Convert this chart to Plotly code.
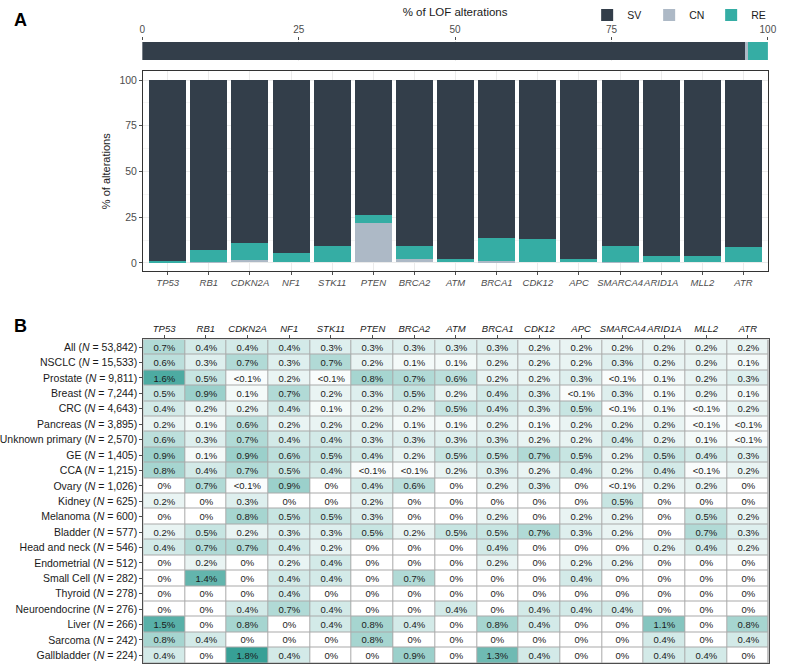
import plotly.graph_objects as go

# ---------------- data ----------------
genes = ["TP53", "RB1", "CDKN2A", "NF1", "STK11", "PTEN", "BRCA2", "ATM",
         "BRCA1", "CDK12", "APC", "SMARCA4", "ARID1A", "MLL2", "ATR"]

# Panel A top: overall share of LOF alterations
overall_types = ["SV", "CN", "RE"]
overall_pct = [96.45, 0.5, 3.05]

# Panel A bars: % of alterations per gene
cn_pct = [0, 0.3, 1.4, 0, 0, 21.7, 1.8, 0, 0.7, 0, 0, 0.2, 0, 0, 0]
re_pct = [0.9, 6.4, 9.4, 4.9, 9.2, 4.5, 7.2, 2.0, 12.7, 13.0, 2.0, 9.0, 3.4, 3.8, 8.7]
sv_pct = [round(100 - c - r, 2) for c, r in zip(cn_pct, re_pct)]

# Panel B heatmap
cancers = ["All", "NSCLC", "Prostate", "Breast", "CRC", "Pancreas", "Unknown primary",
           "GE", "CCA", "Ovary", "Kidney", "Melanoma", "Bladder", "Head and neck",
           "Endometrial", "Small Cell", "Thyroid", "Neuroendocrine", "Liver",
           "Sarcoma", "Gallbladder"]
cohort_n = [53842, 15533, 9811, 7244, 4643, 3895, 2570, 1405, 1215, 1026, 625, 600,
            577, 546, 512, 282, 278, 276, 266, 242, 224]
rate_table = [
    ["0.7", "0.4", "0.4", "0.4", "0.3", "0.3", "0.3", "0.3", "0.3", "0.2", "0.2", "0.2", "0.2", "0.2", "0.2"],
    ["0.6", "0.3", "0.7", "0.3", "0.7", "0.2", "0.1", "0.1", "0.2", "0.2", "0.2", "0.3", "0.2", "0.2", "0.1"],
    ["1.6", "0.5", "<0.1", "0.2", "<0.1", "0.8", "0.7", "0.6", "0.2", "0.2", "0.3", "<0.1", "0.1", "0.2", "0.3"],
    ["0.5", "0.9", "0.1", "0.7", "0.2", "0.3", "0.5", "0.2", "0.4", "0.3", "<0.1", "0.3", "0.1", "0.2", "0.1"],
    ["0.4", "0.2", "0.2", "0.4", "0.1", "0.2", "0.2", "0.5", "0.4", "0.3", "0.5", "<0.1", "0.1", "<0.1", "0.2"],
    ["0.2", "0.1", "0.6", "0.2", "0.2", "0.2", "0.1", "0.1", "0.2", "0.1", "0.2", "0.2", "0.2", "<0.1", "<0.1"],
    ["0.6", "0.3", "0.7", "0.4", "0.4", "0.3", "0.3", "0.3", "0.3", "0.2", "0.2", "0.4", "0.2", "0.1", "<0.1"],
    ["0.9", "0.1", "0.9", "0.6", "0.5", "0.4", "0.2", "0.5", "0.5", "0.7", "0.5", "0.2", "0.5", "0.4", "0.3"],
    ["0.8", "0.4", "0.7", "0.5", "0.4", "<0.1", "<0.1", "0.2", "0.3", "0.2", "0.4", "0.2", "0.4", "<0.1", "0.2"],
    ["0", "0.7", "<0.1", "0.9", "0", "0.4", "0.6", "0", "0.2", "0.3", "0", "<0.1", "0.2", "0.2", "0"],
    ["0.2", "0", "0.3", "0", "0", "0.2", "0", "0", "0", "0", "0", "0.5", "0", "0", "0"],
    ["0", "0", "0.8", "0.5", "0.5", "0.3", "0", "0", "0.2", "0", "0.2", "0.2", "0", "0.5", "0.2"],
    ["0.2", "0.5", "0.2", "0.3", "0.3", "0.5", "0.2", "0.5", "0.5", "0.7", "0.3", "0.2", "0", "0.7", "0.3"],
    ["0.4", "0.7", "0.7", "0.4", "0.2", "0", "0", "0", "0.4", "0", "0", "0", "0.2", "0.4", "0.2"],
    ["0", "0.2", "0", "0.2", "0.4", "0", "0", "0", "0.2", "0", "0.2", "0.2", "0", "0", "0"],
    ["0", "1.4", "0", "0.4", "0.4", "0", "0.7", "0", "0", "0", "0.4", "0", "0", "0", "0"],
    ["0", "0", "0", "0.4", "0", "0", "0", "0", "0", "0", "0", "0", "0", "0", "0"],
    ["0", "0", "0.4", "0.7", "0.4", "0", "0", "0.4", "0", "0.4", "0.4", "0.4", "0", "0", "0"],
    ["1.5", "0", "0.8", "0", "0.4", "0.8", "0.4", "0", "0.8", "0.4", "0", "0", "1.1", "0", "0.8"],
    ["0.8", "0.4", "0", "0", "0", "0.8", "0", "0", "0", "0", "0", "0", "0.4", "0", "0.4"],
    ["0.4", "0", "1.8", "0.4", "0", "0", "0.9", "0", "1.3", "0.4", "0", "0", "0.4", "0.4", "0"],
]

# ---------------- styling ----------------
W, H = 786, 666
FONT = "Arial, Liberation Sans, Helvetica, sans-serif"
COL = {"SV": "#333e4a", "CN": "#adb9c6", "RE": "#35ada4"}
AX = "#4d4d4d"


def px_x(p):
    return p / W


def px_y(p):
    return 1 - p / H


fig = go.Figure()

# top overall bar
for t, v in zip(overall_types, overall_pct):
    fig.add_trace(go.Bar(
        x=[v], y=["LOF"], orientation="h", name=t, width=0.95,
        marker=dict(color=COL[t], line=dict(width=0)),
        xaxis="x", yaxis="y", showlegend=True, hoverinfo="skip"))

# panel A stacked bars (CN bottom, RE, SV top)
for t, vals in [("CN", cn_pct), ("RE", re_pct), ("SV", sv_pct)]:
    fig.add_trace(go.Bar(
        x=genes, y=vals, name=t, width=0.9,
        marker=dict(color=COL[t], line=dict(width=0)),
        xaxis="x2", yaxis="y2", showlegend=False, hoverinfo="skip"))

# panel B heatmap
z = [[0.05 if s.startswith("<") else float(s) for s in row] for row in rate_table]
txt = [[s + "%" for s in row] for row in rate_table]
row_labels = [f"{c} (<i>N</i> = {n:,})" for c, n in zip(cancers, cohort_n)]
fig.add_trace(go.Heatmap(
    z=z, x=genes, y=row_labels, text=txt, texttemplate="%{text}",
    textfont=dict(family=FONT, size=9.5, color="#1a1a1a"),
    colorscale=[[0, "#ffffff"], [1, "#37a096"]], zmin=0, zmax=1.8,
    xgap=1, ygap=1, showscale=False, hoverinfo="skip",
    xaxis="x3", yaxis="y3"))

gene_ticks = [f"<i>{g}</i>" for g in genes]

fig.update_layout(
    width=W, height=H, margin=dict(l=0, r=0, t=0, b=0),
    paper_bgcolor="white", plot_bgcolor="white",
    barmode="stack", bargap=0,
    font=dict(family=FONT, color="#1a1a1a"),
    legend=dict(orientation="h", x=0.995, xanchor="right", y=px_y(10), yanchor="middle",
                font=dict(size=10.5, color="#1a1a1a"), itemwidth=30, traceorder="normal",
                entrywidth=17, entrywidthmode="pixels",
                bgcolor="rgba(0,0,0,0)", itemclick=False),
    # top bar axes
    xaxis=dict(domain=[px_x(137.3), px_x(776.7)], range=[0, 100], side="top", anchor="y",
               tickvals=[0, 25, 50, 75, 100], ticks="outside", ticklen=3, tickcolor=AX,
               tickangle=0, tickfont=dict(size=10, color=AX), showgrid=True,
               gridcolor="#ebebeb", zeroline=False, showline=False,
               title=dict(text="% of LOF alterations", font=dict(size=11.5, color="#1a1a1a"),
                          standoff=4)),
    yaxis=dict(domain=[px_y(56.2), px_y(36.2)], range=[-0.5, 0.5], visible=False, anchor="x"),
    # panel A axes
    xaxis2=dict(domain=[px_x(138), px_x(777)], range=[-0.6, 14.6], anchor="y2",
                tickmode="array", tickvals=genes, ticktext=gene_ticks, tickangle=0,
                ticks="outside", ticklen=3, tickcolor=AX,
                tickfont=dict(size=9.5, color=AX), showgrid=True, gridcolor="#ebebeb",
                showline=True, mirror=True, linecolor="#333333", linewidth=1, zeroline=False),
    yaxis2=dict(domain=[px_y(268), px_y(67)], range=[-4.4, 104.7], anchor="x2",
                tickvals=[0, 25, 50, 75, 100], ticks="outside", ticklen=3, tickcolor=AX,
                tickfont=dict(size=10.5, color=AX), showgrid=True, gridcolor="#ebebeb",
                minor=dict(showgrid=True, gridcolor="#f5f5f5", dtick=12.5),
                showline=True, mirror=True, linecolor="#333333", linewidth=1, zeroline=False,
                title=dict(text="% of alterations", font=dict(size=11, color="#1a1a1a"),
                           standoff=6)),
    # panel B axes
    xaxis3=dict(domain=[px_x(138.3), px_x(777.5)], range=[-0.5, 14.5], anchor="y3", side="top",
                tickmode="array", tickvals=genes, ticktext=gene_ticks, tickangle=0,
                ticks="outside", ticklen=3, tickcolor=AX,
                tickfont=dict(size=9.5, color="#1a1a1a"), showgrid=False,
                showline=True, mirror=True, linecolor=AX, linewidth=1, zeroline=False),
    yaxis3=dict(domain=[px_y(663), px_y(337)], anchor="x3", autorange="reversed",
                ticks="outside", ticklen=3, tickcolor=AX,
                tickfont=dict(size=10.5, color="#1a1a1a"), showgrid=False,
                showline=True, mirror=True, linecolor=AX, linewidth=1, zeroline=False),
    shapes=[dict(type="rect", xref="x3 domain", yref="y3 domain", x0=0, x1=1, y0=0, y1=1,
                 fillcolor="#a9a9a9", line=dict(width=0), layer="below")],
    annotations=[
        dict(text="<b>A</b>", xref="paper", yref="paper", x=px_x(4), y=px_y(15),
             xanchor="left", yanchor="middle", showarrow=False,
             font=dict(size=18, color="#000000")),
        dict(text="<b>B</b>", xref="paper", yref="paper", x=px_x(4), y=px_y(323),
             xanchor="left", yanchor="middle", showarrow=False,
             font=dict(size=18, color="#000000")),
    ],
)

fig.write_html("out.html", config={"displayModeBar": False})

# remove the browser's default page margin so the figure sits at the window origin
with open("out.html", "r", encoding="utf-8") as f:
    page = f.read()
page = page.replace("<head>", "<head><style>html,body{margin:0;padding:0;overflow:hidden;}</style>", 1)
with open("out.html", "w", encoding="utf-8") as f:
    f.write(page)
